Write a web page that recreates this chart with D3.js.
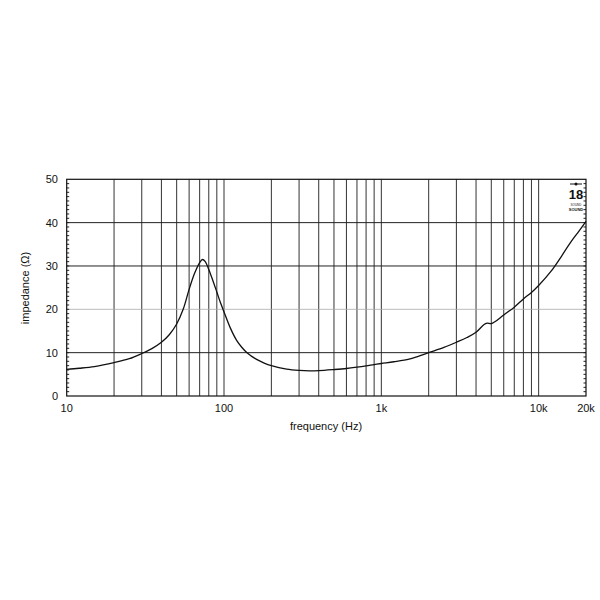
<!DOCTYPE html>
<html><head><meta charset="utf-8">
<script src="https://cdn.jsdelivr.net/npm/d3@7"></script>
<style>
body{margin:0;background:#fff;}
svg{display:block;font-family:"Liberation Sans",Arial,Helvetica,sans-serif;}
</style></head>
<body>
<svg id="chart" width="600" height="600"></svg>
<script>
const freqs = [10,12,15,20,25,30,35,40,45,50,55,60,65,70,73,76,80,85,90,95,100,110,120,130,140,160,180,200,250,300,350,400,500,600,700,800,900,1000,1200,1500,1700,2000,2500,3000,3500,4000,4500,4700,5000,5300,6000,7000,8000,9000,10000,12000,14000,16000,18000,20000];
const impedance = [6.15,6.4,6.8,7.7,8.6,9.8,11.0,12.4,14.2,16.6,20.0,24.6,28.3,30.8,31.5,31.0,29.2,26.6,24.0,21.5,19.4,15.6,12.9,11.2,10.0,8.5,7.6,7.0,6.2,5.9,5.8,5.85,6.1,6.35,6.65,6.95,7.25,7.5,7.9,8.5,9.1,10.0,11.2,12.4,13.5,14.7,16.5,16.8,16.7,17.2,18.7,20.5,22.4,23.9,25.5,28.8,32.3,35.5,38.0,40.3];
const xGrid = [20,30,40,50,60,70,80,90,100,200,300,400,500,600,700,800,900,1000,2000,3000,4000,5000,6000,7000,8000,9000,10000];
const xTickVals = [10,100,1000,10000,20000];
const xTickLabels = ["10","100","1k","10k","20k"];
const yTicks = [0,10,20,30,40,50];

const svg = d3.select("#chart");
const L = 66.7, R = 586, T = 179.3, B = 396;
const x = d3.scaleLog().domain([10,20000]).range([L,R]);
const y = d3.scaleLinear().domain([0,50]).range([B,T]);

// vertical grid
svg.append("g").selectAll("line").data(xGrid).join("line")
  .attr("x1",d=>x(d)).attr("x2",d=>x(d)).attr("y1",T).attr("y2",B)
  .attr("stroke","#333").attr("stroke-width",1);
// horizontal grid
svg.append("g").selectAll("line").data(yTicks.filter(d=>d>0&&d<50)).join("line")
  .attr("x1",L).attr("x2",R).attr("y1",d=>y(d)).attr("y2",d=>y(d))
  .attr("stroke",d=>d===20?"#aaa":"#222").attr("stroke-width",d=>d===20?0.8:1);

// minor y ticks on both borders
const minor = d3.range(1,50);
svg.append("g").selectAll("line").data(minor).join("line")
  .attr("x1",L).attr("x2",L+2.5).attr("y1",d=>y(d)).attr("y2",d=>y(d))
  .attr("stroke","#222").attr("stroke-width",1);
svg.append("g").selectAll("line").data(minor).join("line")
  .attr("x1",R-2.5).attr("x2",R).attr("y1",d=>y(d)).attr("y2",d=>y(d))
  .attr("stroke","#222").attr("stroke-width",1);

// border
svg.append("rect").attr("x",L).attr("y",T).attr("width",R-L).attr("height",B-T)
  .attr("fill","none").attr("stroke","#111").attr("stroke-width",1.2);

// curve
const pts = freqs.map((f,i)=>[f,impedance[i]]);
svg.append("path").datum(pts)
  .attr("d",d3.line().x(d=>x(d[0])).y(d=>y(d[1])).curve(d3.curveCatmullRom.alpha(0.5)))
  .attr("fill","none").attr("stroke","#111").attr("stroke-width",1.3);

// y tick labels
svg.append("g").selectAll("text").data(yTicks).join("text")
  .attr("x",58).attr("y",d=>y(d)+4).attr("text-anchor","end")
  .attr("font-size",11).attr("fill","#111").text(d=>d);
// x tick labels
svg.append("g").selectAll("text").data(xTickVals).join("text")
  .attr("x",d=>x(d)).attr("y",412).attr("text-anchor","middle")
  .attr("font-size",11).attr("fill","#111").text((d,i)=>xTickLabels[i]);

// axis titles
svg.append("text").attr("x",326).attr("y",430).attr("text-anchor","middle")
  .attr("font-size",11).attr("fill","#111").text("frequency (Hz)");
svg.append("text").attr("transform","translate(29,288) rotate(-90)").attr("text-anchor","middle")
  .attr("font-size",11).attr("fill","#111").text("impedance (Ω)");

// logo
const lg = svg.append("g").attr("transform","translate(576,0)");
lg.append("line").attr("x1",-6).attr("x2",6).attr("y1",184).attr("y2",184).attr("stroke","#111").attr("stroke-width",1);
lg.append("circle").attr("cx",0).attr("cy",184).attr("r",1.5).attr("fill","#111");
lg.append("text").attr("x",0).attr("y",199).attr("text-anchor","middle").attr("font-size",13)
  .attr("font-weight","bold").attr("fill","#111").text("18");
lg.append("text").attr("x",0).attr("y",205.5).attr("text-anchor","middle").attr("font-size",3)
  .attr("fill","#111").text("SOUND");
lg.append("text").attr("x",0).attr("y",211).attr("text-anchor","middle").attr("font-size",4)
  .attr("font-weight","bold").attr("fill","#111").text("SOUND");
</script>
</body></html>
